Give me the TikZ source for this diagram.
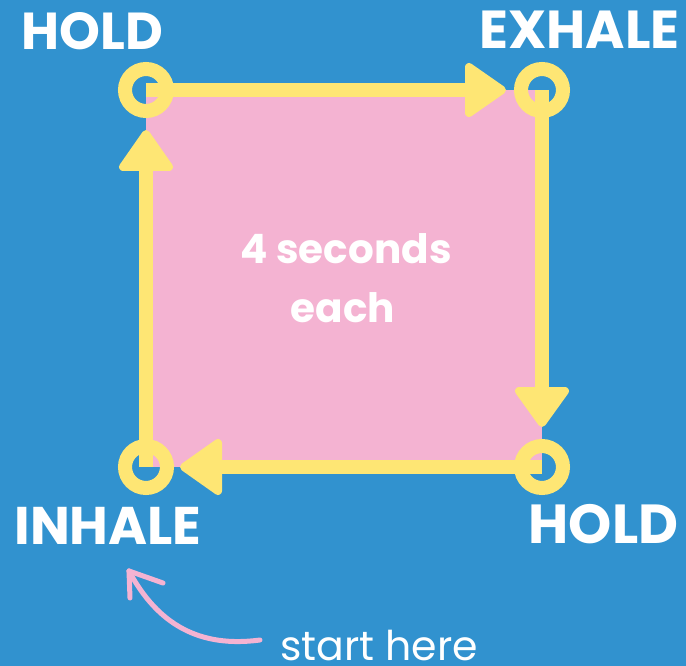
\documentclass[tikz,border=0pt]{standalone}
\usepackage{fontspec}
\setmainfont{Poppins}
\definecolor{bgblue}{HTML}{3192CF}
\definecolor{sqpink}{HTML}{F4B3D2}
\definecolor{yel}{HTML}{FEE674}
\tikzset{
  ring/.style={draw=yel, line width=14pt, circle, minimum size=42pt, inner sep=0pt},
  side/.style={draw=yel, line width=14pt},
  head/.style={fill=yel, draw=yel, line width=8pt, line join=round},
  cornerlabel/.style={text=white, font=\fontsize{52}{52}\selectfont\bfseries, anchor=base, inner sep=0pt},
  midlabel/.style={text=white, font=\fontsize{40.5}{40.5}\selectfont\bfseries, anchor=base, inner sep=0pt},
  hint/.style={text=white, font=\fontsize{41}{41}\selectfont, anchor=base, inner sep=0pt},
}
\begin{document}
\begin{tikzpicture}[x=1pt,y=-1pt]
\fill[bgblue] (0,0) rectangle (686,666);
\useasboundingbox (0,0) rectangle (686,666);
% pink square
\fill[sqpink] (146,90) rectangle (542,467);
% corner coordinates
\coordinate (tl) at (146,90);
\coordinate (tr) at (542,90);
\coordinate (br) at (542,467);
\coordinate (bl) at (146,467);
% arrow bases
\coordinate (topbase) at (470,90);
\coordinate (rightbase) at (542,392);
\coordinate (botbase) at (217,467);
\coordinate (leftbase) at (146,168);
% sides
\draw[side] (tl) -- (topbase);
\draw[side] (tr) -- (rightbase);
\draw[side] (br) -- (botbase);
\draw[side] (bl) -- (leftbase);
% arrowheads
\path[head] (469,67) -- (502,90) -- (469,113) -- cycle;
\path[head] (519,391) -- (565,391) -- (542,423) -- cycle;
\path[head] (218,443) -- (218,491) -- (184,467) -- cycle;
\path[head] (123,167) -- (169,167) -- (146,134) -- cycle;
% rings
\node[ring] (ntl) at (tl) {};
\node[ring] (ntr) at (tr) {};
\node[ring] (nbr) at (br) {};
\node[ring] (nbl) at (bl) {};
% labels
\node[cornerlabel] (lhold1) at (92.5,50) {HOLD};
\node[cornerlabel, font=\fontsize{53.5}{53.5}\selectfont\bfseries] (lexhale) at (579.5,49) {EXHALE};
\node[cornerlabel, font=\fontsize{53}{53}\selectfont\bfseries] (linhale) at (108,544) {INHALE};
\node[cornerlabel, font=\fontsize{55}{55}\selectfont\bfseries] (lhold2) at (603.5,543) {HOLD};
\node[midlabel] (lfour) at (346,263) {4 seconds};
\node[midlabel] (leach) at (343,322) {each};
\node[hint] (lstart) at (379,660) {start here};
% pink hint arrow
\coordinate (hs) at (260,640);
\coordinate (ht) at (129,571);
\draw[sqpink, line width=5pt, line cap=round] (hs) .. controls (200,648) and (158,625) .. (ht);
\draw[sqpink, line width=5pt, line cap=round] (ht) -- (163,583);
\draw[sqpink, line width=5pt, line cap=round] (ht) -- (130,598);
\end{tikzpicture}
\end{document}
